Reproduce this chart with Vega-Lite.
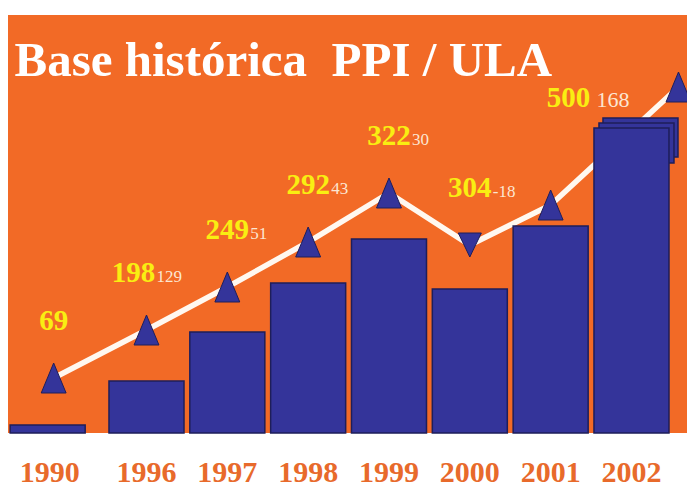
{
  "$schema": "https://vega.github.io/schema/vega-lite/v6.json",
  "width": 679,
  "height": 418,
  "autosize": "none",
  "padding": {"left": 8, "top": 15, "right": 0, "bottom": 53},
  "background": "#ffffff",
  "config": {"view": {"fill": "#F26A26", "stroke": null}},
  "data": {
    "values": [
      {"year": "1990", "bar": 8, "trend": 55, "value": 69, "delta": null},
      {"year": "1996", "bar": 52, "trend": 103, "value": 198, "delta": 129},
      {"year": "1997", "bar": 101, "trend": 146, "value": 249, "delta": 51},
      {"year": "1998", "bar": 150, "trend": 191, "value": 292, "delta": 43},
      {"year": "1999", "bar": 194, "trend": 240, "value": 322, "delta": 30},
      {"year": "2000", "bar": 144, "trend": 188, "value": 304, "delta": -18},
      {"year": "2001", "bar": 207, "trend": 228, "value": null, "delta": null},
      {"year": "2002", "bar": 305, "trend": 346, "value": 500, "delta": 168}
    ]
  },
  "encoding": {
    "x": {
      "field": "year",
      "type": "nominal",
      "sort": null,
      "scale": {"range": [17.25, 663.9], "paddingInner": 0.072, "paddingOuter": 0.036},
      "axis": {
        "title": null,
        "domain": false,
        "ticks": false,
        "grid": false,
        "labelAngle": 0,
        "labelFont": "Liberation Serif",
        "labelFontWeight": "bold",
        "labelFontSize": 30,
        "labelColor": "#E86A2B",
        "labelPadding": 24,
        "labelOffset": {"condition": {"test": "datum.value == '1990'", "value": -16}, "value": 0}
      }
    }
  },
  "layer": [
    {
      "mark": {
        "type": "line",
        "color": "#FFF8F0",
        "strokeWidth": 5.5,
        "strokeCap": "round",
        "xOffset": {"expr": "datum.year == '1990' ? -12 : datum.year == '2002' ? 47 : 0"}
      },
      "encoding": {
        "y": {
          "field": "trend",
          "type": "quantitative",
          "scale": {"domain": [0, 418], "nice": false},
          "axis": {
            "title": "Base histórica\u00a0\u00a0PPI / ULA",
            "labels": false,
            "ticks": false,
            "domain": false,
            "grid": false,
            "titleAngle": 0,
            "titleX": 6,
            "titleY": 60,
            "titleAlign": "left",
            "titleBaseline": "alphabetic",
            "titleFont": "Liberation Serif",
            "titleFontWeight": "bold",
            "titleFontSize": 49,
            "titleColor": "#ffffff"
          }
        }
      }
    },
    {
      "transform": [{"filter": "datum.year == '2002'"}],
      "mark": {"type": "bar", "fill": "#34349A", "stroke": "#1E1E5A", "strokeWidth": 1.5, "xOffset": 9, "yOffset": -10, "y2Offset": 29},
      "encoding": {
        "y": {"field": "bar", "type": "quantitative"},
        "y2": {"field": "bar"}
      }
    },
    {
      "transform": [{"filter": "datum.year == '2002'"}],
      "mark": {"type": "bar", "fill": "#34349A", "stroke": "#1E1E5A", "strokeWidth": 1.5, "xOffset": 5, "yOffset": -5, "y2Offset": 35},
      "encoding": {
        "y": {"field": "bar", "type": "quantitative"},
        "y2": {"field": "bar"}
      }
    },
    {
      "mark": {
        "type": "bar",
        "fill": "#34349A",
        "stroke": "#1E1E5A",
        "strokeWidth": 1.5,
        "xOffset": {"expr": "datum.year == '1990' ? -18 : 0"}
      },
      "encoding": {
        "y": {"field": "bar", "type": "quantitative"}
      }
    },
    {
      "mark": {
        "type": "point",
        "filled": true,
        "fill": "#34349A",
        "stroke": "#1E1E5A",
        "strokeWidth": 1,
        "opacity": 1,
        "xOffset": {"expr": "datum.year == '1990' ? -12 : datum.year == '2002' ? 47 : 0"}
      },
      "encoding": {
        "y": {"field": "trend", "type": "quantitative"},
        "shape": {"condition": {"test": "datum.delta < 0", "value": "M0,1L-0.96,-1L0.96,-1Z"}, "value": "M0,-1L-0.83,1L0.83,1Z"},
        "size": {"condition": {"test": "datum.delta < 0", "value": 576}, "value": 900}
      }
    },
    {
      "transform": [{"filter": "datum.value != null"}],
      "mark": {
        "type": "text",
        "font": "Liberation Serif",
        "fontWeight": "bold",
        "fontSize": 29,
        "color": "#F9EE12",
        "align": "center",
        "baseline": "alphabetic",
        "xOffset": {"expr": "datum.year == '1990' ? -12 : datum.year == '2002' ? 47 : 0"},
        "dx": {"expr": "datum.year == '1996' ? -13 : datum.year == '2002' ? -110 : 0"},
        "dy": {"expr": "datum.year == '2002' ? 20 : -48"}
      },
      "encoding": {
        "y": {"field": "trend", "type": "quantitative"},
        "text": {"field": "value", "type": "nominal"}
      }
    },
    {
      "transform": [{"filter": "datum.delta != null"}],
      "mark": {
        "type": "text",
        "font": "Liberation Serif",
        "fontSize": {"expr": "datum.year == '2002' ? 22 : 17"},
        "color": "#FCE6D2",
        "align": "left",
        "baseline": "alphabetic",
        "xOffset": {"expr": "datum.year == '1990' ? -12 : datum.year == '2002' ? 47 : 0"},
        "dx": {"expr": "datum.year == '1996' ? 10 : datum.year == '2002' ? -82 : 23"},
        "dy": {"expr": "datum.year == '2002' ? 20 : -48"}
      },
      "encoding": {
        "y": {"field": "trend", "type": "quantitative"},
        "text": {"field": "delta", "type": "nominal"}
      }
    }
  ]
}
